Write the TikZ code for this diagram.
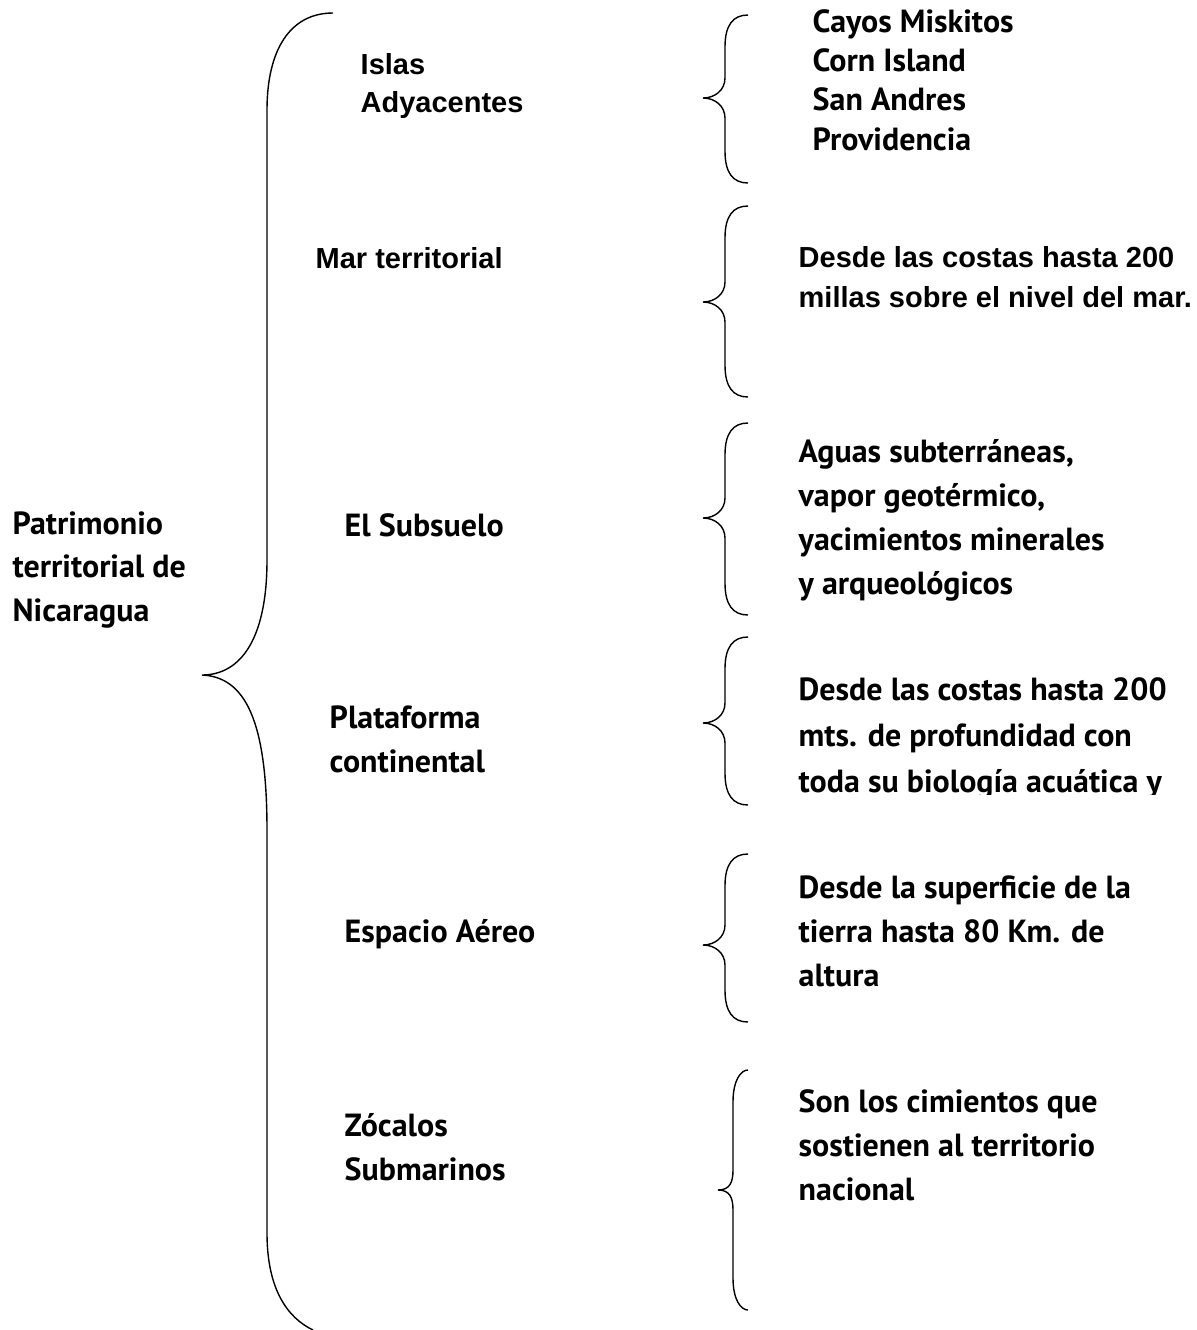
\documentclass[tikz,border=0pt]{standalone}
\usepackage{fontspec}
\newfontfamily\arialfont{Liberation Sans}
\newfontfamily\humfont{PT Sans}
\usepackage{tikz}

\begin{document}
\begin{tikzpicture}[x=0.5pt,y=-0.5pt,line width=0.7pt]
	\tikzstyle{hum}=[anchor=west, inner sep=0pt, align=left, font=\humfont\bfseries\fontsize{16}{22}\selectfont]
	\tikzstyle{ari}=[anchor=west, inner sep=0pt, align=left, font=\arialfont\bfseries\fontsize{14.5}{19.5}\selectfont]
	\useasboundingbox (0,0) rectangle (1197,1330);

	% llave grande
	\draw (333,13) .. controls (290,13) and (267,50) .. (267,110) -- (267,560)
		.. controls (267,640) and (240,675) .. (202,675)
		.. controls (245,677) and (267,720) .. (267,830) -- (267,1233)
		.. controls (267,1290) and (288,1318) .. (313,1330);

	% llaves pequenas: vertical/punta/extremo/arriba/medio/abajo
	\foreach \xv/\xt/\xe/\t/\m/\b in {725/703/748/15/98/183, 725/703/748/206/302/397,
		725/703/748/423/518/615, 725/703/748/637/723/805, 725/703/748/854/945/1022,
		733/718/748/1070/1190/1310}
		\draw (\xe,\t) .. controls (\xv+8,\t) and (\xv,\t+10) .. (\xv,\t+32) -- (\xv,\m-20)
			.. controls (\xv,\m-8) and (\xt+12,\m) .. (\xt,\m)
			.. controls (\xt+12,\m) and (\xv,\m+8) .. (\xv,\m+20) -- (\xv,\b-32)
			.. controls (\xv,\b-10) and (\xv+8,\b) .. (\xe,\b);

	\node [hum, font=\humfont\bfseries\fontsize{16}{21.75}\selectfont] (patrimonio) at (12,570) {Patrimonio\\territorial de\\Nicaragua};

	\node [ari, font=\arialfont\bfseries\fontsize{14.5}{19}\selectfont] (islas) at (360,86) {Islas\\Adyacentes};
	\node [ari] (mar) at (315,258) {Mar territorial};
	\node [hum] (subsuelo) at (344,525) {El Subsuelo};
	\node [hum] (plataforma) at (329,739.5) {Plataforma\\continental};
	\node [hum] (espacio) at (344,934) {Espacio Aéreo};
	\node [hum] (zocalos) at (344,1147.5) {Zócalos\\Submarinos};

	\node [hum, font=\humfont\bfseries\fontsize{16}{19.65}\selectfont] (cayos) at (812,80) {Cayos Miskitos\\Corn Island\\San Andres\\Providencia};
	\node [ari, font=\arialfont\bfseries\fontsize{14.5}{20}\selectfont] (mardesc) at (798,277) {Desde las costas hasta 200\\millas sobre el nivel del mar.};
	\node [hum] (subdesc) at (798,520.5) {Aguas subterráneas,\\vapor geotérmico,\\yacimientos minerales\\y arqueológicos};
	\begin{scope}
		\clip (780,640) rectangle (1197,794);
		\node [hum, font=\humfont\bfseries\fontsize{16}{23}\selectfont] (platdesc) at (798,738) {Desde las costas hasta 200\\mts. de profundidad con\\toda su biología acuática y};
	\end{scope}
	\node [hum] (espdesc) at (798,931.5) {Desde la superficie de la\\tierra hasta 80 Km. de\\altura};
	\node [hum] (zocdesc) at (798,1145.5) {Son los cimientos que\\sostienen al territorio\\nacional};
\end{tikzpicture}
\end{document}
